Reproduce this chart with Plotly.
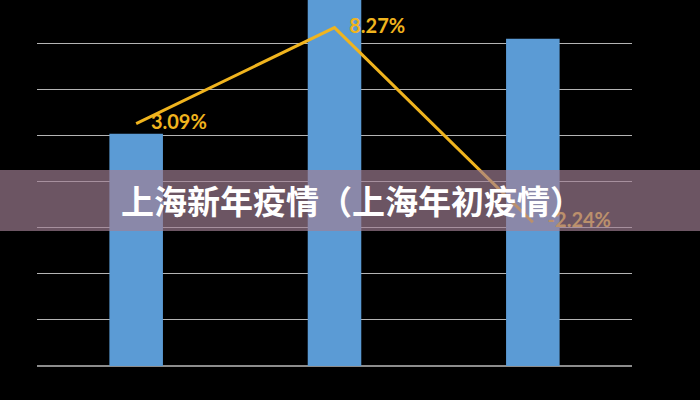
import plotly.graph_objects as go

categories = ["第一年", "第二年", "第三年"]
bar_values = [5.04, 9.0, 7.1]
growth_values = [3.09, 8.27, -2.24]
growth_labels = ["3.09%", "8.27%", "-2.24%"]
title_text = "上海新年疫情（上海年初疫情）"

fig = go.Figure()
fig.add_trace(go.Bar(
    x=categories, y=bar_values, width=0.27,
    marker=dict(color="#5B9BD5", line=dict(width=0)),
    showlegend=False, hoverinfo="skip",
))
fig.add_trace(go.Scatter(
    x=categories, y=growth_values, yaxis="y2",
    mode="lines+markers+text",
    line=dict(color="#F0B41E", width=3),
    marker=dict(size=22, color="rgba(0,0,0,0)"),
    text=growth_labels, textposition="middle right",
    textfont=dict(family="Lato", size=20, color="#F0B41E", weight="bold"),
    showlegend=False, hoverinfo="skip", cliponaxis=False,
))

fig.update_layout(
    width=700, height=400,
    margin=dict(l=37, r=68, t=0, b=34),
    paper_bgcolor="#000000", plot_bgcolor="#000000",
    xaxis=dict(showticklabels=False, showgrid=False, zeroline=False,
               showline=False, ticks=""),
    yaxis=dict(range=[0, 7.94], dtick=1, showticklabels=False,
               showgrid=True, gridcolor="#B4B4B4", gridwidth=1,
               zeroline=True, zerolinecolor="#8C8C8C", zerolinewidth=2,
               ticks=""),
    yaxis2=dict(range=[-10, 9.76], overlaying="y", side="right",
                showticklabels=False, showgrid=False, zeroline=False,
                ticks=""),
    shapes=[dict(type="rect", xref="paper", yref="paper",
                 x0=-0.2, x1=1.3, y0=0.3689, y1=0.5355,
                 fillcolor="rgba(161,127,148,0.67)", line=dict(width=0),
                 layer="above")],
    annotations=[dict(text=title_text, xref="paper", yref="paper",
                      x=0.529, y=0.4536, xanchor="center", yanchor="middle",
                      showarrow=False,
                      font=dict(family="Noto Sans CJK SC", size=33,
                                color="#FFFFFF", weight="bold"))],
)

fig.write_html(
    "out.html",
    config={"displayModeBar": False},
    post_script="document.body.style.margin='0';document.body.style.padding='0';"
                "document.body.style.background='#000';document.body.style.overflow='hidden';",
)
